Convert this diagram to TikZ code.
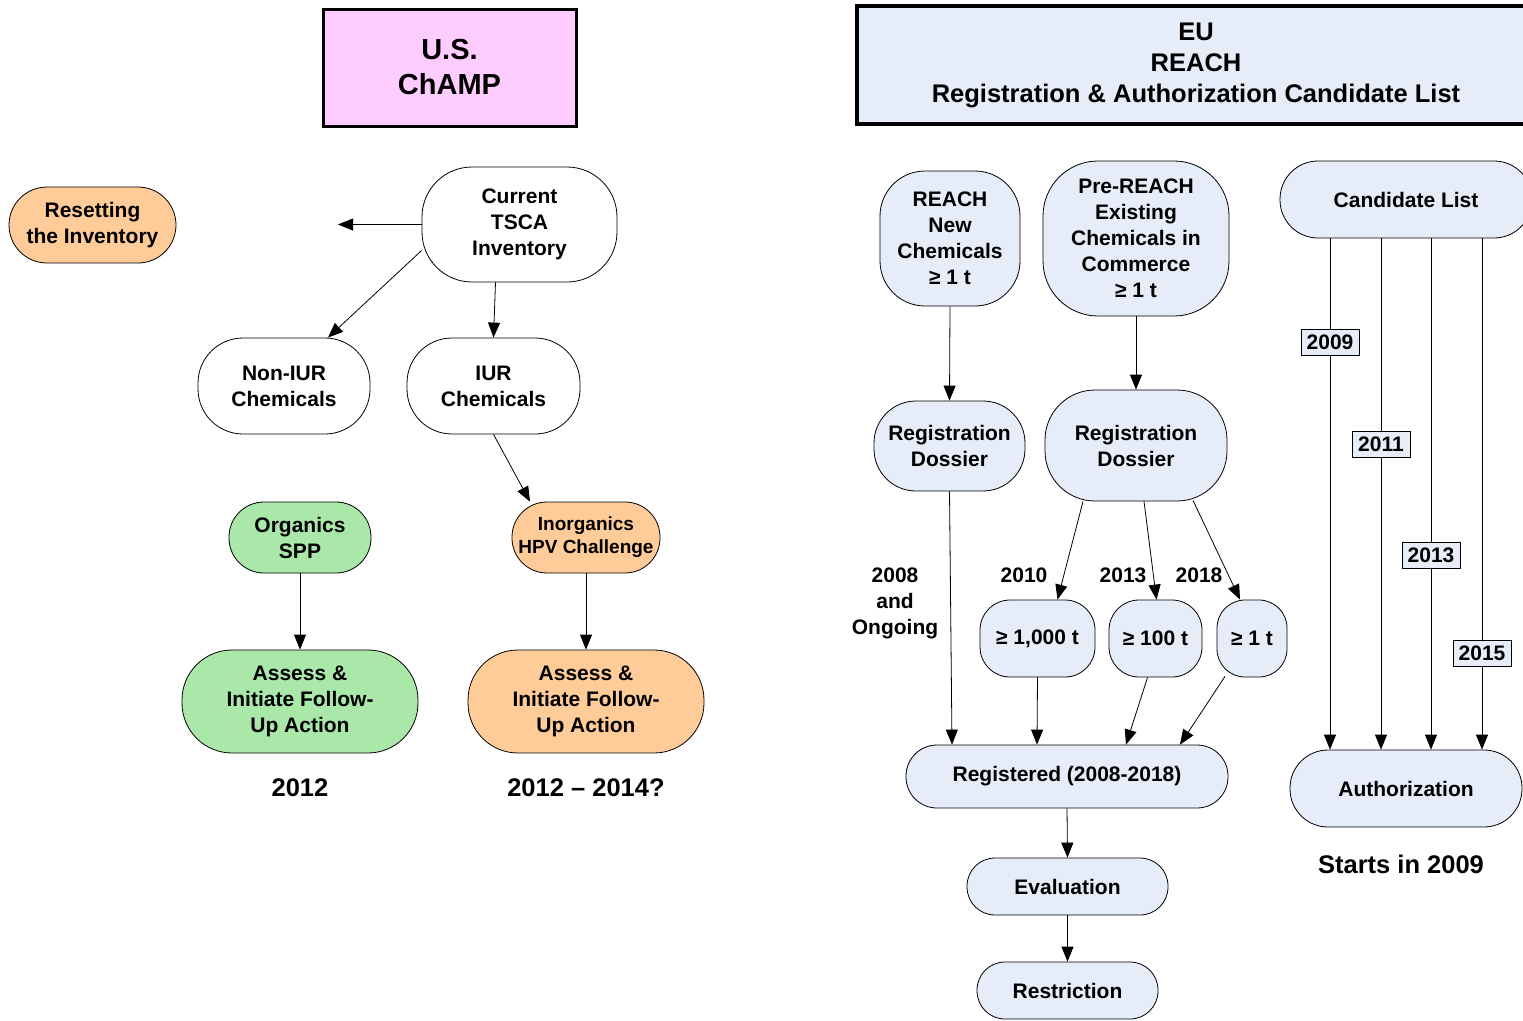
\documentclass[tikz,border=0pt]{standalone}
\usepackage{fontspec}
\setmainfont{Liberation Sans}
\usetikzlibrary{arrows.meta}
\definecolor{champpink}{HTML}{FFCCFF}
\definecolor{peach}{HTML}{FFCC99}
\definecolor{sppgreen}{HTML}{AAE8AA}
\definecolor{eublue}{HTML}{E6ECF8}

\begin{document}
\begin{tikzpicture}[x=1pt, y=-1pt, line width=0.8pt,
    font=\bfseries\fontsize{21}{26}\selectfont,
    >={Triangle[length=15pt,width=12pt]},
    blob/.style={draw, align=center, inner sep=2pt},
    title/.style 2 args={draw, align=center, line width=3pt, font=\bfseries\fontsize{#1}{#2}\selectfont},
    yearbox/.style={draw, fill=eublue, line width=0.6pt, minimum width=58pt, minimum height=26pt, inner sep=0pt},
    bigyear/.style={font=\bfseries\fontsize{25.5}{30}\selectfont}]
    \useasboundingbox (0,0) rectangle (1523,1020);

    % U.S. ChAMP
    \node (champ) [title={29}{35}, fill=champpink, minimum width=253pt, minimum height=117pt] at (449.5,67.5) {U.S.\\ChAMP};
    \node (reset) [blob, fill=peach, rounded corners=38pt, minimum width=167pt, minimum height=76pt] at (92.5,225) {Resetting\\the Inventory};
    \node (cur) [blob, rounded corners=50pt, minimum width=195pt, minimum height=115pt] at (519.5,224.5) {Current\\TSCA\\Inventory};
    \node (noniur) [blob, rounded corners=45pt, minimum width=172pt, minimum height=96pt] at (284,386) {Non-IUR\\Chemicals};
    \node (iur) [blob, rounded corners=45pt, minimum width=173pt, minimum height=96pt] at (493.5,386) {IUR\\Chemicals};
    \node (org) [blob, fill=sppgreen, rounded corners=35pt, minimum width=142pt, minimum height=71pt] at (300,537.5) {Organics\\SPP};
    \node (inorg) [blob, fill=peach, rounded corners=35pt, minimum width=148pt, minimum height=71pt, font=\bfseries\fontsize{19}{23}\selectfont] at (586,537.5) {Inorganics\\HPV Challenge};
    \node (assg) [blob, fill=sppgreen, rounded corners=50pt, minimum width=236pt, minimum height=103pt] at (300,701.5) {Assess \&\\Initiate Follow-\\Up Action};
    \node (assp) [blob, fill=peach, rounded corners=50pt, minimum width=236pt, minimum height=103pt] at (586,701.5) {Assess \&\\Initiate Follow-\\Up Action};
    \node (yrg) [bigyear] at (300,788) {2012};
    \node (yrp) [bigyear] at (586,788) {2012 -- 2014?};
    \coordinate (left) at (338,224.5);

    \draw[->] (cur.west) -- (left);
    \draw[->] ([yshift=-26pt]cur.west) -- ([xshift=44pt]noniur.north);
    \draw[->] ([xshift=-24pt]cur.south) -- (iur.north);
    \draw[->] (iur.south) -- ([xshift=-56pt]inorg.north);
    \draw[->] (org.south) -- (assg.north);
    \draw[->] (inorg.south) -- (assp.north);

    % EU REACH
    \node (eu) [title={25.5}{31}, fill=eublue, line width=3.5pt, minimum width=678pt, minimum height=118pt] at (1196,65) {EU\\REACH\\Registration \& Authorization Candidate List};
    \node (new) [blob, fill=eublue, rounded corners=45pt, minimum width=140pt, minimum height=135pt] at (950,238.5) {REACH\\New\\Chemicals\\≥ 1 t};
    \node (pre) [blob, fill=eublue, rounded corners=55pt, minimum width=186pt, minimum height=155pt] at (1136,238.5) {Pre-REACH\\Existing\\Chemicals in\\Commerce\\≥ 1 t};
    \node (cand) [blob, fill=eublue, rounded corners=38pt, minimum width=252pt, minimum height=77pt] at (1406,199.5) {Candidate List};
    \node (dos1) [blob, fill=eublue, rounded corners=42pt, minimum width=151pt, minimum height=90pt] at (949.5,446) {Registration\\Dossier};
    \node (dos2) [blob, fill=eublue, rounded corners=50pt, minimum width=182pt, minimum height=111pt] at (1136,445.5) {Registration\\Dossier};
    \node (kt1000) [blob, fill=eublue, rounded corners=30pt, minimum width=115pt, minimum height=77pt] at (1037.5,638.5) {≥ 1,000 t};
    \node (kt100) [blob, fill=eublue, rounded corners=30pt, minimum width=93pt, minimum height=77pt] at (1155.5,638.5) {≥ 100 t};
    \node (kt1) [blob, fill=eublue, rounded corners=28pt, minimum width=70pt, minimum height=77pt] at (1252,638.5) {≥ 1 t};
    \node (reg) [blob, fill=eublue, rounded corners=31pt, minimum width=322pt, minimum height=63pt] at (1067,776.5) {Registered (2008-2018)};
    \node (eval) [blob, fill=eublue, rounded corners=28pt, minimum width=201pt, minimum height=57pt] at (1067.5,886.5) {Evaluation};
    \node (restr) [blob, fill=eublue, rounded corners=28pt, minimum width=181pt, minimum height=57pt] at (1067.5,990.5) {Restriction};
    \node (auth) [blob, fill=eublue, rounded corners=38pt, minimum width=232pt, minimum height=77pt] at (1406,788.5) {Authorization};
    \node (start) [bigyear] at (1401,864) {Starts in 2009};

    \node (ongoing) [align=center] at (895,603) {2008\\and\\Ongoing};
    \node (yr2010) at (1024,575) {2010};
    \node (yr2013) at (1123,575) {2013};
    \node (yr2018) at (1199,575) {2018};

    \draw[->] (new.south) -- (dos1.north);
    \draw[->] (pre.south) -- (dos2.north);
    \draw[->] ([xshift=-53pt]dos2.south) -- ([xshift=20pt]kt1000.north);
    \draw[->] ([xshift=8pt]dos2.south) -- ([xshift=1pt]kt100.north);
    \draw[->] ([xshift=57pt,yshift=1pt]dos2.south) -- ([xshift=-12pt]kt1.north);
    \draw[->] (dos1.south) -- ([xshift=-115pt]reg.north);
    \draw[->] (kt1000.south) -- ([xshift=-30pt]reg.north);
    \draw[->] ([xshift=-8pt]kt100.south) -- ([xshift=59pt]reg.north);
    \draw[->] ([xshift=-27pt,yshift=1pt]kt1.south) -- ([xshift=113pt]reg.north);
    \draw[->] (reg.south) -- (eval.north);
    \draw[->] (eval.south) -- (restr.north);

    % candidate list years
    \foreach \dx/\yr/\p in {-76/2009/0.203, -25/2011/0.402, 25/2013/0.619, 76/2015/0.812}
        \draw[->] ([xshift=\dx pt]cand.south) -- ([xshift=\dx pt]cand.south |- auth.north)
            node (box\yr) [yearbox, pos=\p] {\yr};
\end{tikzpicture}
\end{document}
